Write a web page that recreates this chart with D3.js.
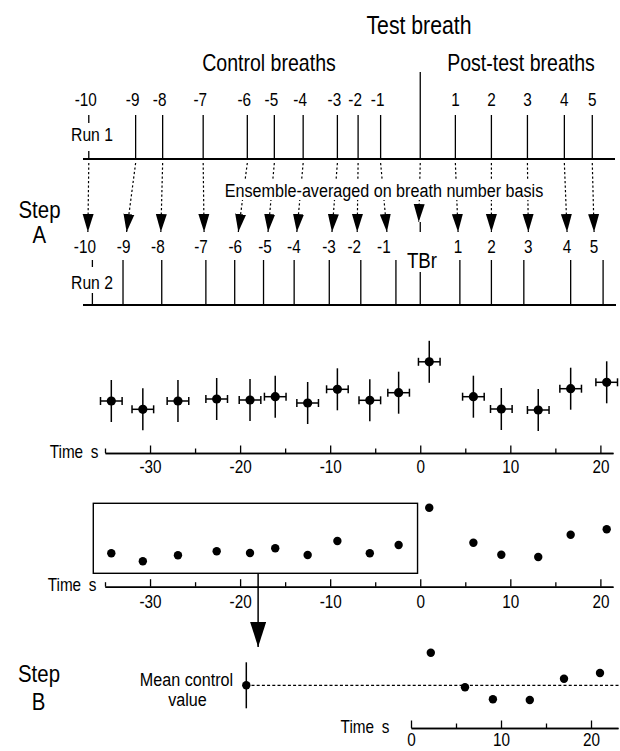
<!DOCTYPE html>
<html>
<head>
<meta charset="utf-8">
<script src="https://cdn.jsdelivr.net/npm/d3@7"></script>
<style>
  body { margin: 0; background: #fff; }
  svg { display: block; font-family: "Liberation Sans", Arial, sans-serif; }
</style>
</head>
<body>
<div class="chart"></div>
<script>
// breath numbers around the test breath
const breaths = [-10, -9, -8, -7, -6, -5, -4, -3, -2, -1, 1, 2, 3, 4, 5];
// breath onset times (s) in run 1 and run 2
const run1Times = [-36.8, -31.6, -28.6, -24.1, -19.2, -16.2, -13.0, -9.2, -6.9, -4.4, 3.9, 7.9, 11.9, 16.0, 19.1];
const run2Times = [-36.4, -33.0, -28.7, -23.8, -20.6, -17.4, -14.0, -10.1, -6.6, -2.7, 4.4, 7.9, 11.5, 16.7, 20.3];
// where each breath number ends up after averaging (s)
const avgTimes = [-36.9, -32.6, -28.8, -24.0, -20.2, -16.9, -13.7, -9.8, -7.0, -3.7, 4.2, 7.9, 12.0, 16.3, 19.3];
const testBreathTime = 0;

// ensemble-averaged breaths (arbitrary units)
const pointTimes = [-34.3, -30.8, -26.9, -22.6, -18.9, -16.1, -12.5, -9.2, -5.6, -2.4, 1.0, 5.9, 9.0, 13.1, 16.7, 20.7];
const pointMeans = [5.9, 5.07, 5.9, 6.1, 6.0, 6.33, 5.7, 7.07, 5.97, 6.73, 9.82, 6.33, 5.1, 5.0, 7.13, 7.77];
const pointSD = [2.1, 2.1, 2.1, 2.1, 2.1, 2.1, 2.1, 2.1, 2.1, 2.1, 2.1, 2.1, 2.1, 2.1, 2.1, 2.1];
const timeSD = [1.2, 1.2, 1.2, 1.2, 1.2, 1.2, 1.2, 1.2, 1.2, 1.2, 1.2, 1.2, 1.2, 1.2, 1.2, 1.2];

// the same breaths replotted without error bars
const replotMeans = [5.9, 5.1, 5.7, 6.1, 5.93, 6.4, 5.73, 7.13, 5.9, 6.73, 10.46, 6.96, 5.76, 5.53, 7.76, 8.3];
const controlWindow = [-36.3, -0.3];
const controlBand = [3.9, 10.9];

// step B: post-test breaths relative to the mean control value
const postTimes = [2.2, 6.0, 9.1, 13.2, 17.0, 21.0];
const postChange = [3.26, -0.2, -1.4, -1.47, 0.66, 1.23];
const meanControlTime = -18.3;
const meanControlSD = 2.3;

const majorTicks = [-30, -20, -10, 0, 10, 20];
const minorTicks = [-35, -25, -15, -5, 5, 15];
const stepBMajor = [0, 10, 20];
const stepBMinor = [5, 15];

const W = 620, H = 751;
const SX = 0.85; // the original type is condensed

const svg = d3.select("div.chart")
    .append("svg")
    .attr("width", W)
    .attr("height", H);

const defs = svg.append("defs");
defs.append("marker")
    .attr("id", "head")
    .attr("viewBox", "0 -6 18 12")
    .attr("refX", 18).attr("refY", 0)
    .attr("markerWidth", 18).attr("markerHeight", 12)
    .attr("markerUnits", "userSpaceOnUse")
    .attr("orient", "auto")
    .append("path").attr("d", "M0,-5.5L18,0L0,5.5Z").attr("fill", "#000");
defs.append("marker")
    .attr("id", "bighead")
    .attr("viewBox", "0 -8 25 16")
    .attr("refX", 25).attr("refY", 0)
    .attr("markerWidth", 25).attr("markerHeight", 16)
    .attr("markerUnits", "userSpaceOnUse")
    .attr("orient", "auto")
    .append("path").attr("d", "M0,-8L25,0L0,8Z").attr("fill", "#000");

// text helper: y is the middle of the capitals
function label(x, y, str, size, anchor) {
    const g = svg.append("g").attr("transform", `translate(${x},${y}) scale(${SX},1)`);
    g.append("text")
        .attr("text-anchor", anchor || "middle")
        .attr("dy", "0.36em")
        .attr("font-size", size)
        .text(str);
    return g;
}
function blank(x0, y0, x1, y1) {
    svg.append("rect").attr("x", x0).attr("y", y0)
        .attr("width", x1 - x0).attr("height", y1 - y0).attr("fill", "#fff");
}
// negative numbers are centred on their digits
const numShift = d => d < 0 ? -3 : 0;

// shared time scale
const x = d3.scaleLinear().domain([-35, 21.4]).range([105, 613]);

// ---------- Step A: the two runs ----------
const runs = svg.append("g").attr("stroke", "#000");
runs.append("line").attr("x1", 83).attr("x2", 615).attr("y1", 159).attr("y2", 159).attr("stroke-width", 1.8);
runs.append("line").attr("x1", 83).attr("x2", 616).attr("y1", 305).attr("y2", 305).attr("stroke-width", 1.8);

runs.selectAll(".r1").data(run1Times).enter().append("line")
    .attr("x1", d => x(d)).attr("x2", d => x(d))
    .attr("y1", 115).attr("y2", 159).attr("stroke-width", 1.3);
runs.selectAll(".r2").data(run2Times).enter().append("line")
    .attr("x1", d => x(d)).attr("x2", d => x(d))
    .attr("y1", 260).attr("y2", 305).attr("stroke-width", 1.3);

// test breath
runs.append("line").attr("x1", x(testBreathTime)).attr("x2", x(testBreathTime))
    .attr("y1", 72).attr("y2", 159).attr("stroke-width", 1.3);
runs.append("line").attr("x1", x(testBreathTime)).attr("x2", x(testBreathTime))
    .attr("y1", 222).attr("y2", 305).attr("stroke-width", 1.3);

// dotted arrows from run 1 to run 2
runs.selectAll(".arr").data(run1Times).enter().append("line")
    .attr("x1", d => x(d)).attr("y1", 163)
    .attr("x2", (d, i) => x(avgTimes[i])).attr("y2", 232)
    .attr("stroke-width", 1.2)
    .attr("stroke-dasharray", "2.2,2.3")
    .attr("marker-end", "url(#head)");
runs.append("line")
    .attr("x1", x(testBreathTime)).attr("y1", 163)
    .attr("x2", x(testBreathTime) - 1.5).attr("y2", 222)
    .attr("stroke-width", 1.2)
    .attr("stroke-dasharray", "2.2,2.3")
    .attr("marker-end", "url(#head)");

// gaps behind labels
blank(66, 123, 116, 151);
blank(66, 267, 118, 293);
blank(222, 180, 547, 200);
blank(404, 232, 441, 272);

label(419, 25, "Test breath", 25);
label(269, 63, "Control breaths", 23);
label(521, 63, "Post-test breaths", 23);
breaths.forEach((b, i) => {
    label(x(run1Times[i]) + numShift(b), 100, String(b), 18);
    label(x(avgTimes[i]) + numShift(b), 247, String(b), 18);
});
label(92, 134, "Run 1", 18.5);
label(92, 282, "Run 2", 18.5);
label(384, 190, "Ensemble-averaged on breath number basis", 19);
label(422, 260, "TBr", 22);
label(39.5, 209, "Step", 24);
label(39.3, 234, "A", 24);

// ---------- axes ----------
function timeAxis(scale, y, major, minor, pad) {
    const g = svg.append("g").attr("transform", `translate(0,${y})`);
    g.call(d3.axisBottom(scale).tickValues(minor).tickSizeInner(-4.5).tickSizeOuter(0).tickFormat(""));
    const g2 = svg.append("g").attr("transform", `translate(0,${y})`);
    g2.call(d3.axisBottom(scale).tickValues(major).tickSizeInner(-7.5).tickSizeOuter(0).tickPadding(pad).tickFormat(d => String(d)));
    svg.selectAll("path.domain").attr("stroke-width", 1.6);
    svg.selectAll(".tick line").attr("stroke-width", 1.3);
    g2.selectAll(".tick text")
        .attr("font-size", 18)
        .attr("font-family", "Liberation Sans, Arial, sans-serif")
        .attr("fill", "#000")
        .attr("transform", `scale(${SX},1)`);
}

// ---------- ensemble averages with error bars ----------
const y1 = d3.scaleLinear().domain([0, 10]).range([460, 360]);
timeAxis(x, 453, majorTicks, minorTicks, 7);
label(98.4, 451.5, "Time\u2002s", 18, "end");

const eb = svg.append("g").attr("stroke", "#000").attr("stroke-width", 1.5);
pointTimes.forEach((t, i) => {
    const cx = x(t), cy = y1(pointMeans[i]);
    eb.append("line").attr("x1", cx).attr("x2", cx)
        .attr("y1", y1(pointMeans[i] - pointSD[i])).attr("y2", y1(pointMeans[i] + pointSD[i]));
    eb.append("line").attr("x1", x(t - timeSD[i])).attr("x2", x(t + timeSD[i]))
        .attr("y1", cy).attr("y2", cy);
    [t - timeSD[i], t + timeSD[i]].forEach(e => {
        eb.append("line").attr("x1", x(e)).attr("x2", x(e))
            .attr("y1", cy - 4).attr("y2", cy + 4);
    });
});
svg.append("g").selectAll("circle").data(pointTimes).enter().append("circle")
    .attr("cx", d => x(d))
    .attr("cy", (d, i) => y1(pointMeans[i]))
    .attr("r", 4.6)
    .attr("fill", "#000");

// ---------- means only, control window boxed ----------
const y2 = d3.scaleLinear().domain([0, 10]).range([612.3, 512.3]);
timeAxis(x, 586.7, majorTicks, minorTicks, 8.5);
label(96.4, 585, "Time\u2002s", 18, "end");

svg.append("rect")
    .attr("x", x(controlWindow[0])).attr("y", y2(controlBand[1]))
    .attr("width", x(controlWindow[1]) - x(controlWindow[0]))
    .attr("height", y2(controlBand[0]) - y2(controlBand[1]))
    .attr("fill", "none").attr("stroke", "#000").attr("stroke-width", 1.4);
svg.append("g").selectAll("circle").data(pointTimes).enter().append("circle")
    .attr("cx", d => x(d))
    .attr("cy", (d, i) => y2(replotMeans[i]))
    .attr("r", 4.2)
    .attr("fill", "#000");

// arrow down to step B
svg.append("line")
    .attr("x1", x(-18)).attr("x2", x(-18))
    .attr("y1", y2(controlBand[0])).attr("y2", 647)
    .attr("stroke", "#000").attr("stroke-width", 1.5)
    .attr("marker-end", "url(#bighead)");

// ---------- Step B ----------
const x3 = d3.scaleLinear().domain([0, 23]).range([411, 618]);
const y3 = d3.scaleLinear().domain([-3, 3]).range([715.3, 655.3]);
timeAxis(x3, 728, stepBMajor, stepBMinor, 5.5);
label(389.3, 727, "Time\u2002s", 18, "end");

svg.append("line")
    .attr("x1", x3(meanControlTime)).attr("x2", W)
    .attr("y1", y3(0)).attr("y2", y3(0))
    .attr("stroke", "#000").attr("stroke-width", 1.2)
    .attr("stroke-dasharray", "3,2.2");
svg.append("line")
    .attr("x1", x3(meanControlTime)).attr("x2", x3(meanControlTime))
    .attr("y1", y3(-meanControlSD)).attr("y2", y3(meanControlSD))
    .attr("stroke", "#000").attr("stroke-width", 1.5);
svg.append("circle")
    .attr("cx", x3(meanControlTime)).attr("cy", y3(0)).attr("r", 4.2).attr("fill", "#000");
svg.append("g").selectAll("circle").data(postTimes).enter().append("circle")
    .attr("cx", d => x3(d))
    .attr("cy", (d, i) => y3(postChange[i]))
    .attr("r", 4.2)
    .attr("fill", "#000");

label(186.5, 679.5, "Mean control", 19);
label(187.5, 699, "value", 19);
label(39, 673, "Step", 24);
label(38.5, 701, "B", 24);
</script>
</body>
</html>
